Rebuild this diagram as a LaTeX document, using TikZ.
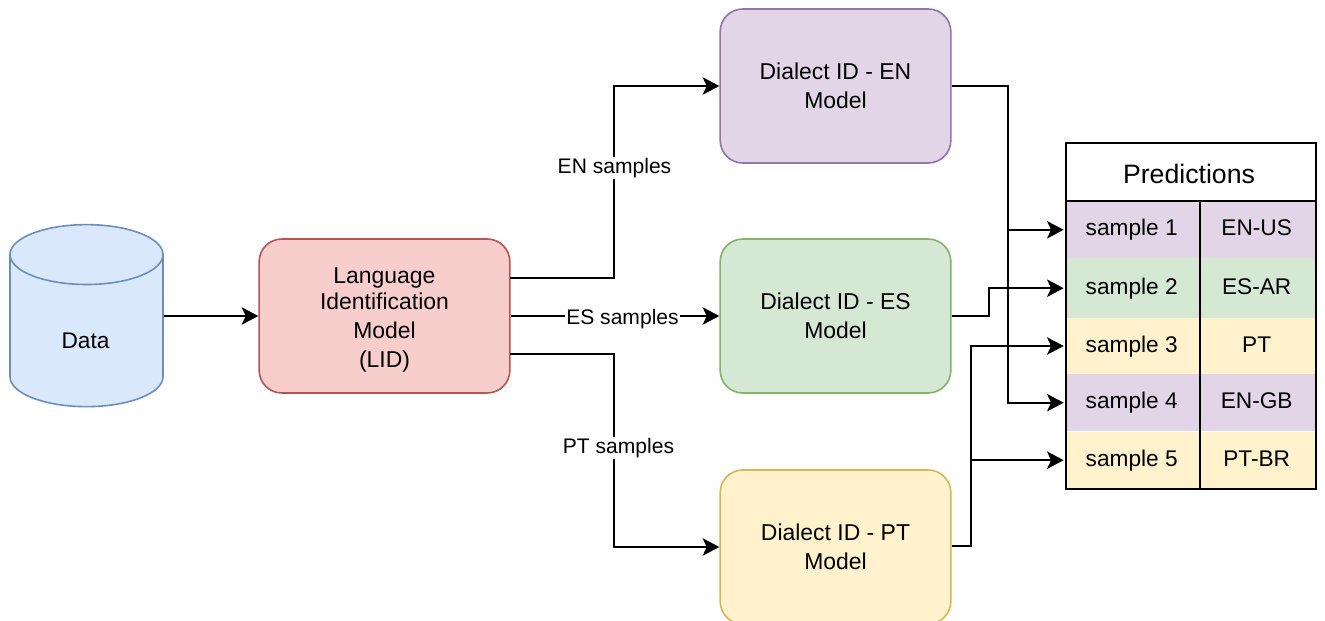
\documentclass[tikz,border=0pt]{standalone}
\usepackage{fontspec}
\setmainfont{Liberation Sans}
\usetikzlibrary{arrows.meta,shapes.geometric}

\definecolor{purplefill}{HTML}{E1D5E7}
\definecolor{purpleline}{HTML}{9673A6}
\definecolor{greenfill}{HTML}{D5E8D4}
\definecolor{greenline}{HTML}{82B366}
\definecolor{yellowfill}{HTML}{FFF2CC}
\definecolor{yellowline}{HTML}{D6B656}
\definecolor{redfill}{HTML}{F8CECC}
\definecolor{redline}{HTML}{B85450}
\definecolor{bluefill}{HTML}{DAE8FC}
\definecolor{blueline}{HTML}{6C8EBF}

\tikzset{
  model/.style={draw,rounded corners=17pt,line width=1.2pt,align=center,
    minimum height=115.5pt,inner sep=0pt,font=\fontsize{17.2}{21.75}\selectfont},
  link/.style={draw,line width=1.5pt,-{Stealth[length=12.5pt,width=13pt,inset=3pt]}},
  tablelink/.style={link,shorten >=1.5pt},
  wire/.style={draw,line width=1.4pt},
  cell/.style={minimum height=#1,inner sep=0pt,text height=12.6pt,text depth=3.6pt,
    font=\fontsize{17}{20}\selectfont},
}

\begin{document}
\begin{tikzpicture}[x=.75pt,y=-.75pt]
  \useasboundingbox (0,0) rectangle (1325,621);

  \node[cylinder,shape border rotate=90,aspect=1.2,draw=blueline,fill=bluefill,
    line width=1.2pt,minimum width=114.75pt,minimum height=136.5pt,inner sep=0pt,
    text height=26pt,font=\fontsize{17}{20}\selectfont] (data) at (86.5,331) {Data\kern1.5pt};

  \begin{scope}[every node/.style={model}]
    \node[draw=redline,fill=redfill,minimum width=188pt] (lid) at (384.5,316)
      {\rule{0pt}{17.2pt}Language\\[-2.25pt]Identification\\Model\\(LID)};
    \node[draw=purpleline,fill=purplefill,minimum width=173pt] (en) at (835.5,86) {Dialect ID - EN\\Model};
    \node[draw=greenline,fill=greenfill,minimum width=173pt] (es) at (835.5,316) {Dialect ID - ES\\Model};
    \node[draw=yellowline,fill=yellowfill,minimum width=173pt] (pt) at (835.5,547) {Dialect ID - PT\\Model};
  \end{scope}

  % predictions table
  \node[draw,line width=1.4pt,minimum width=187.5pt,minimum height=43.5pt,inner sep=0pt,
    text height=17.5pt,font=\fontsize{20}{24}\selectfont] (head) at (1191,172) {Predictions\kern3pt};
  \begin{scope}[every node/.style={cell=43pt,minimum width=100.5pt}]
    \node[fill=purplefill,cell=43.2pt] (s1) at (1133,229.8) {sample 1\kern2pt};
    \node[fill=greenfill,cell=44.6pt]  (s2) at (1133,288.2) {sample 2\kern2pt};
    \node[fill=yellowfill,cell=42pt]   (s3) at (1133,346)   {sample 3\kern2pt};
    \node[fill=purplefill,cell=43pt]   (s4) at (1133,402.7) {sample 4\kern2pt};
    \node[fill=yellowfill,cell=43pt]   (s5) at (1133,460.2) {sample 5\kern2pt};
  \end{scope}
  \begin{scope}[every node/.style={cell=43pt,minimum width=87pt}]
    \node[fill=purplefill,cell=43.2pt] (c1) at (1258,229.8) {EN-US\kern2pt};
    \node[fill=greenfill,cell=44.6pt]  (c2) at (1258,288.2) {ES-AR\kern2pt};
    \node[fill=yellowfill,cell=42pt]   (c3) at (1258,346)   {PT\kern2pt};
    \node[fill=purplefill,cell=43pt]   (c4) at (1258,402.7) {EN-GB\kern2pt};
    \node[fill=yellowfill,cell=43pt]   (c5) at (1258,460.2) {PT-BR\kern2pt};
  \end{scope}
  \draw[wire] (s1.north west) rectangle (c5.south east);
  \draw[wire] (s1.north east) -- (s5.south east);

  \coordinate (lidup)   at (510,278);
  \coordinate (liddown) at (510,354);
  \coordinate (upbend)  at (614,278);
  \coordinate (downbend) at (614,354);
  \coordinate (enbus)   at (1008,86);
  \coordinate (esbus)   at (989,316);
  \coordinate (ptbus)   at (971,546);

  \path[link] (data.east |- lid.west) -- (lid);
  \path[link] (lidup) -- (upbend) |- (en);
  \path[link] (lid) -- (es);
  \path[link] (liddown) -- (downbend) |- (pt);

  \begin{scope}[every node/.style={fill=white,inner sep=1pt,font=\fontsize{15.8}{19}\selectfont}]
    \node (enlabel) at (614.5,168) {EN samples};
    \node (eslabel) at (622.5,319) {ES samples};
    \node (ptlabel) at (618.5,448) {PT samples};
  \end{scope}

  \path[tablelink] (en) -- (enbus) |- (s1);
  \path[tablelink] (enbus) |- (s4);
  \path[tablelink] (es) -- (esbus) |- (s2);
  \path[tablelink] (pt.east |- ptbus) -- (ptbus) |- (s3);
  \path[tablelink] (ptbus) |- (s5);
\end{tikzpicture}
\end{document}
